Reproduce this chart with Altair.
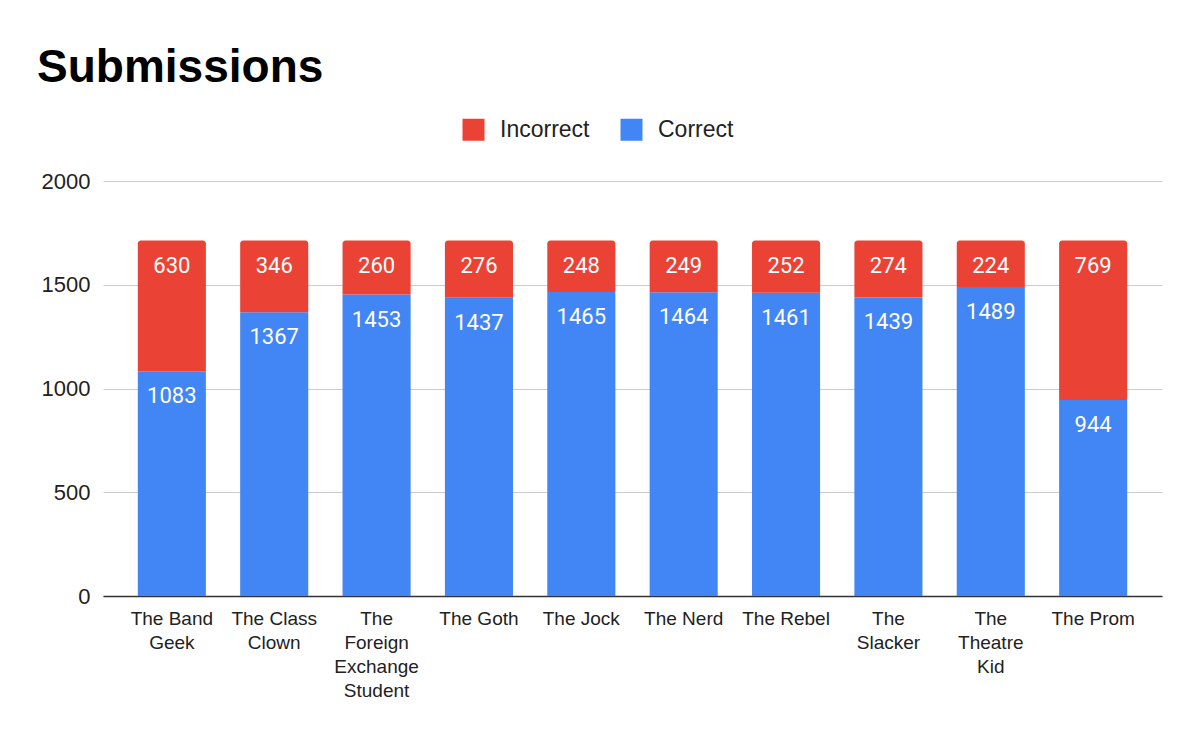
import altair as alt
import pandas as pd

categories = ["The Band|Geek", "The Class|Clown", "The|Foreign|Exchange|Student",
              "The Goth", "The Jock", "The Nerd", "The Rebel", "The|Slacker",
              "The|Theatre|Kid", "The Prom"]
correct = [1083, 1367, 1453, 1437, 1465, 1464, 1461, 1439, 1489, 944]
incorrect = [630, 346, 260, 276, 248, 249, 252, 274, 224, 769]

rows = []
for c, a, b in zip(categories, correct, incorrect):
    rows.append({"cat": c, "type": "Correct", "start": 0, "end": a, "value": a})
    rows.append({"cat": c, "type": "Incorrect", "start": a, "end": a + b, "value": b})
df = pd.DataFrame(rows)

RED = "#EA4335"
BLUE = "#4285F4"

x = alt.X("cat:N", sort=categories, title=None,
          scale=alt.Scale(paddingInner=0.335, paddingOuter=0.34),
          axis=alt.Axis(labelAngle=0, labelExpr="split(datum.label, '|')",
                        labelFont="Liberation Sans", labelFontSize=19,
                        labelLineHeight=24, labelColor="#222222",
                        labelPadding=13, ticks=False, domainColor="#333333",
                        domainWidth=1.5, grid=False, labelBaseline="top"))
y = alt.Y("start:Q", title=None,
          scale=alt.Scale(domain=[0, 2000], nice=False),
          axis=alt.Axis(values=[0, 500, 1000, 1500, 2000], grid=True, format="d",
                        gridColor="#cccccc", gridWidth=1, domain=False, ticks=False,
                        labelFont="Liberation Sans", labelFontSize=22,
                        labelColor="#222222", labelPadding=13))
color = alt.Color("type:N", title=None,
                  scale=alt.Scale(domain=["Incorrect", "Correct"], range=[RED, BLUE]),
                  legend=alt.Legend(orient="none", legendX=359, legendY=-63,
                                    direction="horizontal", symbolType="square",
                                    symbolSize=484, symbolStrokeWidth=0,
                                    labelFont="Liberation Sans", labelFontSize=23,
                                    labelColor="#222222", labelOffset=15,
                                    columnPadding=30))

base = alt.Chart(df)

blue_bars = base.transform_filter("datum.type == 'Correct'").mark_bar().encode(
    x=x, y=y, y2="end:Q", color=color)
red_bars = base.transform_filter("datum.type == 'Incorrect'").mark_bar(
    cornerRadiusTopLeft=3, cornerRadiusTopRight=3).encode(
    x=x, y=y, y2="end:Q", color=color)
labels = base.mark_text(font="Roboto", fontSize=22, color="white",
                        baseline="top", dy=15).encode(
    x=alt.X("cat:N", sort=categories),
    y=alt.Y("end:Q"),
    text="value:Q")

chart = alt.layer(blue_bars, red_bars, labels).properties(
    width=1059, height=415,
    title=alt.TitleParams("Submissions", anchor="start", font="Liberation Sans",
                          fontSize=46, fontWeight="bold", color="#000000",
                          dx=-4, offset=26),
    autosize=alt.AutoSizeParams(type="none"),
    padding={"left": 95, "top": 173, "right": 20, "bottom": 130},
).configure_view(stroke=None)

chart.save("out.html", embed_options={"renderer": "svg", "actions": False})
